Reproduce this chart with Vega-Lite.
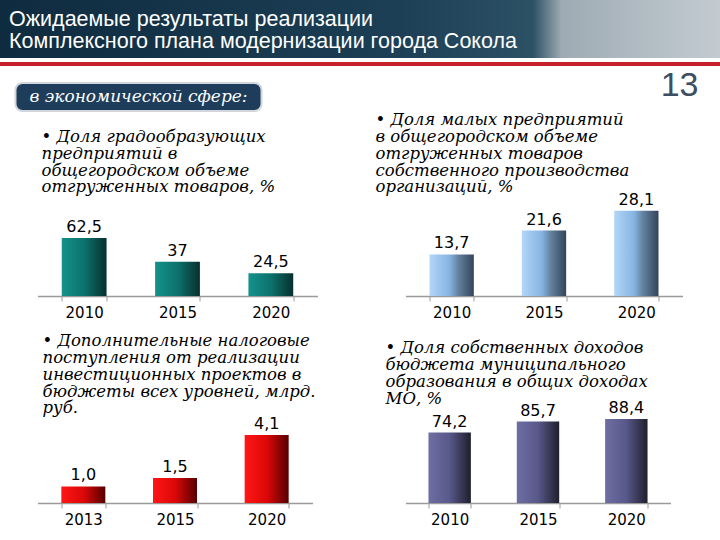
{
  "$schema": "https://vega.github.io/schema/vega-lite/v6.json",
  "padding": 0,
  "background": "white",
  "spacing": 0,
  "center": true,
  "config": {
    "view": {"stroke": null},
    "axis": {"domainColor": "#9a9a9a", "domainWidth": 1.5, "tickColor": "#9a9a9a", "tickSize": 5, "labelFont": "DejaVu Sans", "labelFontSize": 15, "labelColor": "#000000", "labelPadding": 4, "grid": false},
    "title": {"anchor": "start", "fontSize": 16.5, "font": "DejaVu Serif", "fontStyle": "italic", "fontWeight": "normal", "color": "#000000", "lineHeight": 16.8, "offset": 0}
  },
  "vconcat": [
    {
      "spacing": 0,
      "vconcat": [
        {
          "width": 720, "height": 58,
          "view": {"stroke": null, "fill": {"gradient": "linear", "x1": 0, "x2": 1, "y1": 0, "y2": 0, "stops": [{"offset": 0, "color": "#0f2b3f"}, {"offset": 0.55, "color": "#1c3f55"}, {"offset": 0.74, "color": "#2c5064"}, {"offset": 0.78, "color": "#9eabb4"}, {"offset": 1, "color": "#c3cbd1"}]}},
          "data": {"values": [{"t": "Ожидаемые результаты реализации\nКомплексного плана модернизации города Сокола"}]},
          "mark": {"type": "text", "align": "left", "lineBreak": "\n", "dx": 9, "dy": -9, "fontSize": 21.5, "font": "Liberation Sans", "color": "#ffffff", "lineHeight": 21.5},
          "encoding": {
            "text": {"field": "t"},
            "x": {"datum": 0, "type": "quantitative", "scale": {"domain": [0, 1]}, "axis": null}
          }
        },
        {
          "width": 720, "height": 4,
          "view": {"stroke": null, "fill": "#c8202a"},
          "data": {"values": [{"t": ""}]},
          "mark": {"type": "text"},
          "encoding": {"text": {"field": "t"}}
        }
      ]
    },
    {
      "spacing": 0,
      "center": true,
      "vconcat": [
        {
          "spacing": 392,
          "hconcat": [
            {
              "spacing": 0,
              "vconcat": [
                {
                  "width": 246, "height": 10,
                  "data": {"values": [{"t": ""}]},
                  "mark": {"type": "text"},
                  "encoding": {"text": {"field": "t"}}
                },
                {
                  "width": 246, "height": 28,
                  "view": {"fill": "#1d3d5b", "stroke": "#d0d6dc", "strokeWidth": 2, "cornerRadius": 7},
                  "data": {"values": [{"t": "в экономической сфере:"}]},
                  "mark": {"type": "text", "fontSize": 17, "font": "DejaVu Serif", "fontStyle": "italic", "color": "#ffffff"},
                  "encoding": {"text": {"field": "t"}}
                }
              ]
            },
            {
              "width": 50, "height": 30,
              "data": {"values": [{"t": "13"}]},
              "mark": {"type": "text", "align": "right", "baseline": "top", "dx": -6, "dy": -3, "fontSize": 34, "font": "Liberation Sans Narrow, Liberation Sans", "color": "#3c4e60"},
              "encoding": {
                "text": {"field": "t"},
                "x": {"datum": 1, "type": "quantitative", "scale": {"domain": [0, 1]}, "axis": null},
                "y": {"datum": 1, "type": "quantitative", "scale": {"domain": [0, 1]}, "axis": null}
              }
            }
          ]
        },
        {
          "columns": 2,
          "align": "each",
          "spacing": {"row": 13, "column": 58},
          "concat": [
            {
              "width": 280, "height": 100,
              "title": {"text": ["• Доля градообразующих", "предприятий в", "общегородском объеме", "отгруженных товаров, %"], "offset": 0, "dx": 4},
              "data": {"values": [{"year": "2010", "value": 62.5, "label": "62,5"}, {"year": "2015", "value": 37, "label": "37"}, {"year": "2020", "value": 24.5, "label": "24,5"}]},
              "encoding": {
                "x": {"field": "year", "type": "nominal", "sort": null, "scale": {"paddingInner": 0.52, "paddingOuter": 0.26}, "axis": {"title": null, "labelAngle": 0, "tickBand": "extent"}},
                "y": {"field": "value", "type": "quantitative", "scale": {"domain": [0, 107.8]}, "axis": null}
              },
              "layer": [
                {"mark": {"type": "bar", "color": {"gradient": "linear", "x1": 0, "x2": 1, "y1": 0, "y2": 0, "stops": [{"offset": 0, "color": "#14928b"}, {"offset": 0.5, "color": "#0d726c"}, {"offset": 1, "color": "#06302e"}]}}},
                {"mark": {"type": "text", "baseline": "bottom", "dy": -3, "fontSize": 16, "font": "DejaVu Sans", "color": "#000000"}, "encoding": {"text": {"field": "label"}}}
              ]
            },
            {
              "width": 277, "height": 100,
              "title": {"text": ["• Доля малых предприятий", "в общегородском объеме", "отгруженных товаров", "собственного производства", "организаций, %"], "dx": -30, "offset": -4},
              "data": {"values": [{"year": "2010", "value": 13.7, "label": "13,7"}, {"year": "2015", "value": 21.6, "label": "21,6"}, {"year": "2020", "value": 28.1, "label": "28,1"}]},
              "encoding": {
                "x": {"field": "year", "type": "nominal", "sort": null, "scale": {"paddingInner": 0.52, "paddingOuter": 0.26}, "axis": {"title": null, "labelAngle": 0, "tickBand": "extent"}},
                "y": {"field": "value", "type": "quantitative", "scale": {"domain": [0, 33]}, "axis": null}
              },
              "layer": [
                {"mark": {"type": "bar", "color": {"gradient": "linear", "x1": 0, "x2": 1, "y1": 0, "y2": 0, "stops": [{"offset": 0, "color": "#b2d6f8"}, {"offset": 0.45, "color": "#86b4e2"}, {"offset": 0.65, "color": "#64829f"}, {"offset": 1, "color": "#33445a"}]}}},
                {"mark": {"type": "text", "baseline": "bottom", "dy": -3, "fontSize": 16, "font": "DejaVu Sans", "color": "#000000"}, "encoding": {"text": {"field": "label"}}}
              ]
            },
            {
              "width": 275, "height": 85,
              "title": {"text": ["• Дополнительные налоговые", "поступления от реализации", "инвестиционных проектов в", "бюджеты всех уровней, млрд.", "руб."], "dx": 5, "offset": -1},
              "data": {"values": [{"year": "2013", "value": 1.0, "label": "1,0"}, {"year": "2015", "value": 1.5, "label": "1,5"}, {"year": "2020", "value": 4.1, "label": "4,1"}]},
              "encoding": {
                "x": {"field": "year", "type": "nominal", "sort": null, "scale": {"paddingInner": 0.52, "paddingOuter": 0.26}, "axis": {"title": null, "labelAngle": 0, "tickBand": "extent"}},
                "y": {"field": "value", "type": "quantitative", "scale": {"domain": [0, 5.12]}, "axis": null}
              },
              "layer": [
                {"mark": {"type": "bar", "color": {"gradient": "linear", "x1": 0, "x2": 1, "y1": 0, "y2": 0, "stops": [{"offset": 0, "color": "#ff1616"}, {"offset": 0.5, "color": "#dc0808"}, {"offset": 1, "color": "#560000"}]}}},
                {"mark": {"type": "text", "baseline": "bottom", "dy": -3, "fontSize": 16, "font": "DejaVu Sans", "color": "#000000"}, "encoding": {"text": {"field": "label"}}}
              ]
            },
            {
              "width": 265, "height": 85,
              "title": {"text": ["• Доля собственных доходов", "бюджета муниципального", "образования в общих доходах", "МО, %"], "dx": -20, "offset": -7},
              "data": {"values": [{"year": "2010", "value": 74.2, "label": "74,2"}, {"year": "2015", "value": 85.7, "label": "85,7"}, {"year": "2020", "value": 88.4, "label": "88,4"}]},
              "encoding": {
                "x": {"field": "year", "type": "nominal", "sort": null, "scale": {"paddingInner": 0.52, "paddingOuter": 0.26}, "axis": {"title": null, "labelAngle": 0, "tickBand": "extent"}},
                "y": {"field": "value", "type": "quantitative", "scale": {"domain": [0, 89.5]}, "axis": null}
              },
              "layer": [
                {"mark": {"type": "bar", "color": {"gradient": "linear", "x1": 0, "x2": 1, "y1": 0, "y2": 0, "stops": [{"offset": 0, "color": "#6e6ea4"}, {"offset": 0.5, "color": "#58588a"}, {"offset": 1, "color": "#1f1f2c"}]}}},
                {"mark": {"type": "text", "baseline": "bottom", "dy": -3, "fontSize": 16, "font": "DejaVu Sans", "color": "#000000"}, "encoding": {"text": {"field": "label"}}}
              ]
            }
          ]
        }
      ]
    }
  ]
}
